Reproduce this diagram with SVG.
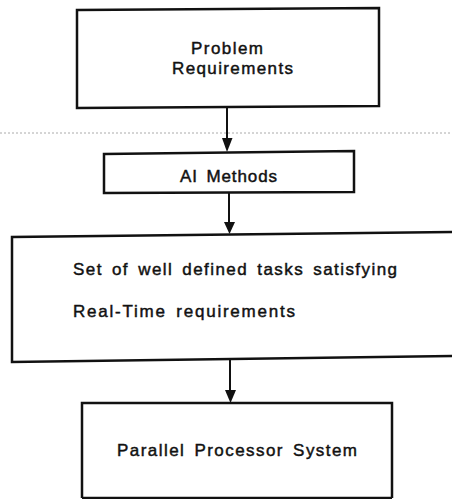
<svg xmlns="http://www.w3.org/2000/svg" width="452" height="499" viewBox="0 0 452 499">
<style>
.box{fill:none;stroke:#111;stroke-width:2.5;stroke-linejoin:miter}
.lbl{font-family:"Liberation Sans",Arial,sans-serif;font-size:17px;fill:#111;stroke:#111;stroke-width:0.45;word-spacing:3px}
.conn{stroke:#111;stroke-width:2;fill:none}
.head{fill:#111}
.fold{stroke:#aaa;stroke-width:1;stroke-dasharray:2 2;fill:none}
</style>
<rect width="452" height="499" fill="#fff"/>
<line class="fold" x1="0" y1="133" x2="452" y2="133"/>
<g id="node-problem">
<path class="box" d="M77 10 L379 8 L379 106 L77 108 Z"/>
<text class="lbl" x="191" y="54" textLength="72" lengthAdjust="spacing">Problem</text>
<text class="lbl" x="172" y="74" textLength="121" lengthAdjust="spacing">Requirements</text>
</g>
<g id="node-ai">
<path class="box" d="M104 154 L354 151 L354 192 L104 193 Z"/>
<text class="lbl" x="180" y="182" textLength="97" lengthAdjust="spacing">AI Methods</text>
</g>
<g id="node-tasks">
<path class="box" d="M460 232 L12 237 L12 362 L460 356"/>
<text class="lbl" x="73" y="275" textLength="324" lengthAdjust="spacing">Set of well defined tasks satisfying</text>
<text class="lbl" x="73" y="317" textLength="222" lengthAdjust="spacing">Real-Time  requirements</text>
</g>
<g id="node-parallel">
<path class="box" d="M82 498 L82 403 L392 403 L392 498"/>
<line class="box" x1="82" y1="498" x2="392" y2="498"/>
<text class="lbl" x="117" y="456" textLength="240" lengthAdjust="spacing">Parallel Processor System</text>
</g>
<g id="connectors">
<line class="conn" x1="227" y1="107" x2="227" y2="140"/>
<path class="head" d="M222 138 L232.5 138 L227 152 Z"/>
<line class="conn" x1="229" y1="192" x2="229" y2="224"/>
<path class="head" d="M224 222 L235 222 L229.5 234 Z"/>
<line class="conn" x1="230" y1="359" x2="230" y2="392"/>
<path class="head" d="M225 390 L236 390 L230.5 403 Z"/>
</g>
</svg>
